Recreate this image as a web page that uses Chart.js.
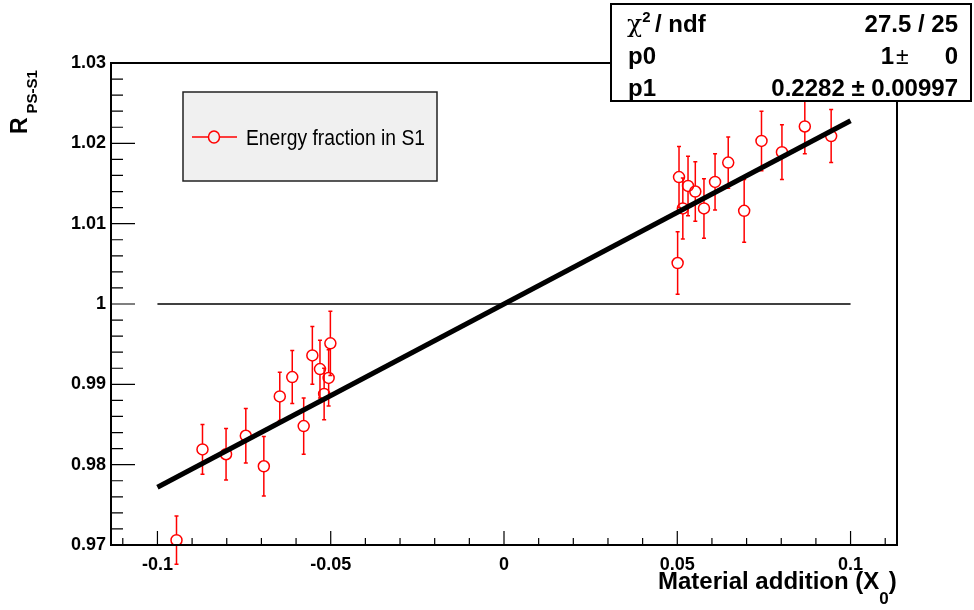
<!DOCTYPE html>
<html>
<head>
<meta charset="utf-8">
<script src="https://cdn.jsdelivr.net/npm/chart.js@4.4.1/dist/chart.umd.min.js"></script>
<style>
  html, body { margin: 0; padding: 0; background: #fff; }
  #c { display: block; }
</style>
</head>
<body>
<canvas id="c" width="974" height="610"></canvas>
<script>
// measured points (x = material addition in X0, y = R_PS-S1, yErr = error)
const ptX = [-0.0945,-0.0870,-0.0802,-0.0745,-0.0693,-0.0647,-0.0611,-0.0578,-0.0553,-0.0531,-0.0519,-0.0506,-0.0501,
             0.0501,0.0505,0.0516,0.0531,0.0552,0.0577,0.0609,0.0647,0.0693,0.0743,0.0802,0.0868,0.0944];
const ptY = [0.9706,0.9819,0.9813,0.9836,0.9798,0.9885,0.9909,0.9848,0.9936,0.9919,0.9888,0.9908,0.9951,
             1.0051,1.0158,1.0119,1.0147,1.0140,1.0119,1.0152,1.0176,1.0116,1.0203,1.0189,1.0221,1.0209];
const ptErr = [0.0030,0.0031,0.0032,0.0034,0.0037,0.0030,0.0033,0.0035,0.0036,0.0036,0.0032,0.0035,0.0040,
               0.0039,0.0038,0.0038,0.0037,0.0037,0.0037,0.0035,0.0032,0.0039,0.0037,0.0034,0.0034,0.0033];

// fit pol1 drawn over [-0.1, 0.1]
const fitX = [-0.1, 0.1];
const fitY = [0.97718, 1.02282];
// reference line R = 1
const refX = [-0.1, 0.1];
const refY = [1, 1];

const xTicks = [-0.1, -0.05, 0, 0.05, 0.1];
const yTicks = [0.97, 0.98, 0.99, 1.00, 1.01, 1.02, 1.03];

const statRows = [["χ", "27.5 / 25"], ["p0", "1", "0"], ["p1", "0.2282 ± 0.00997"]];
const legendLabel = "Energy fraction in S1";

const FONT = '"Liberation Sans", Arial, Helvetica, sans-serif';
const RED = '#ff0000';

function pairs(xs, ys){ return xs.map((v,i)=>({x:v, y:ys[i]})); }
function fmt(v){ return String(+(+v).toFixed(3)); }

const rootPlugin = {
  id: 'root',
  beforeDatasetsDraw(chart){
    const ctx = chart.ctx, xs = chart.scales.x, ys = chart.scales.y;
    const r = 5.5;
    ctx.save();
    ctx.strokeStyle = RED;
    ctx.lineWidth = 1.5;
    for (let i=0;i<ptX.length;i++){
      const px = xs.getPixelForValue(ptX[i]);
      const py = ys.getPixelForValue(ptY[i]);
      const top = ys.getPixelForValue(ptY[i]+ptErr[i]);
      const bot = ys.getPixelForValue(ptY[i]-ptErr[i]);
      ctx.beginPath();
      ctx.moveTo(px, top); ctx.lineTo(px, py-r);
      ctx.moveTo(px, py+r); ctx.lineTo(px, bot);
      ctx.moveTo(px-2, top); ctx.lineTo(px+2, top);
      ctx.moveTo(px-2, bot); ctx.lineTo(px+2, bot);
      ctx.stroke();
    }
    ctx.restore();
  },
  afterDraw(chart){
    const ctx = chart.ctx, xs = chart.scales.x, ys = chart.scales.y;
    const a = chart.chartArea;
    ctx.save();
    // frame
    ctx.strokeStyle = '#000';
    ctx.lineWidth = 2;
    ctx.strokeRect(a.left, a.top, a.right-a.left, a.bottom-a.top);
    // ticks inside the frame
    ctx.lineWidth = 1.2;
    ctx.beginPath();
    for (let k=-11;k<=11;k++){
      const v = k/100, px = xs.getPixelForValue(v);
      const len = (k%5===0) ? 14 : 7;
      ctx.moveTo(px, a.bottom); ctx.lineTo(px, a.bottom-len);
    }
    for (let k=0;k<=30;k++){
      const v = 0.97 + k*0.002, py = ys.getPixelForValue(v);
      const len = (k%5===0) ? 24 : 12;
      ctx.moveTo(a.left, py); ctx.lineTo(a.left+len, py);
    }
    ctx.stroke();

    ctx.fillStyle = '#000';
    // x title
    ctx.font = 'bold 24px ' + FONT;
    ctx.textBaseline = 'alphabetic';
    ctx.textAlign = 'left';
    let t = 'Material addition (X';
    let tx = 658;
    ctx.fillText(t, tx, 589);
    tx += ctx.measureText(t).width;
    ctx.font = 'bold 17px ' + FONT;
    ctx.fillText('0', tx, 604);
    tx += ctx.measureText('0').width;
    ctx.font = 'bold 24px ' + FONT;
    ctx.fillText(')', tx, 589);

    // y title (rotated)
    ctx.save();
    ctx.translate(27, 134);
    ctx.rotate(-Math.PI/2);
    ctx.font = 'bold 23px ' + FONT;
    ctx.fillText('R', 0, 0);
    const rw = ctx.measureText('R').width;
    ctx.font = 'bold 15px ' + FONT;
    ctx.fillText('PS-S1', rw + 4, 10);
    ctx.restore();

    // legend box
    ctx.fillStyle = '#f0f0f0';
    ctx.fillRect(183, 92, 254, 89);
    ctx.strokeStyle = '#222';
    ctx.lineWidth = 1.5;
    ctx.strokeRect(183, 92, 254, 89);
    ctx.strokeStyle = RED;
    ctx.lineWidth = 1.5;
    ctx.beginPath();
    ctx.moveTo(192, 137); ctx.lineTo(208, 137);
    ctx.moveTo(220, 137); ctx.lineTo(237, 137);
    ctx.stroke();
    ctx.beginPath();
    ctx.ellipse(214, 137, 5.5, 6, 0, 0, Math.PI*2);
    ctx.stroke();
    ctx.fillStyle = '#000';
    ctx.font = '22px ' + FONT;
    ctx.save();
    const lw = ctx.measureText(legendLabel).width;
    ctx.translate(246, 145);
    ctx.scale(179/lw, 1);
    ctx.fillText(legendLabel, 0, 0);
    ctx.restore();

    // stats box
    ctx.fillStyle = '#fff';
    ctx.fillRect(611, 4, 360, 97);
    ctx.strokeStyle = '#000';
    ctx.lineWidth = 2;
    ctx.strokeRect(611, 4, 360, 97);
    ctx.fillStyle = '#000';
    // row 1
    ctx.font = '25px "DejaVu Serif", "Liberation Serif", serif';
    ctx.textAlign = 'left';
    ctx.fillText(statRows[0][0], 627, 32);
    let cx = 627 + ctx.measureText(statRows[0][0]).width;
    ctx.font = 'bold 15px ' + FONT;
    ctx.fillText('2', cx, 22);
    ctx.font = 'bold 24px ' + FONT;
    ctx.fillText('/ ndf', 655, 32);
    ctx.textAlign = 'right';
    ctx.fillText(statRows[0][1], 958, 32);
    // row 2
    ctx.textAlign = 'left';
    ctx.fillText(statRows[1][0], 628, 64);
    ctx.textAlign = 'right';
    ctx.fillText(statRows[1][1], 894, 64);
    ctx.fillText(statRows[1][2], 958, 64);
    ctx.textAlign = 'left';
    ctx.font = '23px ' + FONT;
    ctx.fillText('±', 896, 64);
    // row 3
    ctx.font = 'bold 24px ' + FONT;
    ctx.fillText(statRows[2][0], 628, 96);
    ctx.textAlign = 'right';
    ctx.fillText(statRows[2][1], 958, 96);
    ctx.restore();
  }
};

new Chart(document.getElementById('c'), {
  type: 'scatter',
  data: {
    datasets: [
      { label: 'fit', data: pairs(fitX, fitY), showLine: true, borderColor: '#000', borderWidth: 5,
        pointRadius: 0, order: 0 },
      { label: legendLabel, data: pairs(ptX, ptY), borderColor: RED, backgroundColor: 'rgba(0,0,0,0)',
        pointRadius: 5.5, borderWidth: 1.5, order: 1 },
      { label: 'ref', data: pairs(refX, refY), showLine: true, borderColor: '#000', borderWidth: 1.5,
        pointRadius: 0, order: 2 }
    ]
  },
  options: {
    responsive: false,
    animation: false,
    layout: { padding: { left: 0, top: 63, right: 77, bottom: 0 } },
    plugins: { legend: { display: false }, tooltip: { enabled: false } },
    scales: {
      x: {
        type: 'linear', min: -0.1134, max: 0.1134,
        grid: { display: false, drawTicks: false }, border: { display: false },
        afterBuildTicks: s => { s.ticks = xTicks.map(v => ({ value: v })); },
        afterFit: s => { s.height = 65; },
        ticks: { color: '#000', font: { family: FONT, size: 18, weight: 'bold' }, padding: 9,
                 autoSkip: false, maxRotation: 0, callback: v => fmt(v) }
      },
      y: {
        type: 'linear', min: 0.97, max: 1.03,
        grid: { display: false, drawTicks: false }, border: { display: false },
        afterBuildTicks: s => { s.ticks = yTicks.map(v => ({ value: v })); },
        afterFit: s => { s.width = 111; },
        ticks: { color: '#000', font: { family: FONT, size: 18, weight: 'bold' }, padding: 5,
                 autoSkip: false, callback: v => fmt(v) }
      }
    }
  },
  plugins: [rootPlugin]
});
</script>
</body>
</html>
